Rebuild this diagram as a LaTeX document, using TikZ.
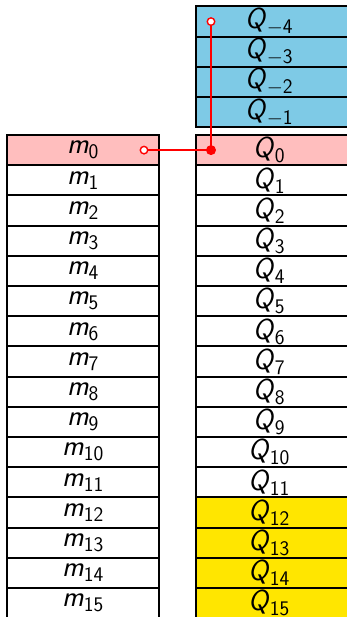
\documentclass[tikz,border=0pt]{standalone}
\usepackage{tikz}
\definecolor{qblue}{RGB}{126,202,230}
\definecolor{mpink}{RGB}{255,190,190}
\definecolor{qyellow}{RGB}{255,230,0}
\newcommand\lab[2]{\textsf{\textit{#1}}$_{\mathsf{#2}}$}
\tikzset{
  cell/.style={draw=black, line width=2pt, rectangle, minimum height=30.2pt, inner sep=0pt, font=\fontsize{29}{32}\selectfont},
  mcell/.style={cell, minimum width=152pt},
  qcell/.style={cell, minimum width=156pt},
  wire/.style={red, line width=1.6pt},
  opendot/.style={circle, draw=red, fill=white, line width=1.4pt, minimum size=7.5pt, inner sep=0pt},
  solidot/.style={circle, fill=red, minimum size=10pt, inner sep=0pt}
}
\begin{document}
\begin{tikzpicture}[x=1pt,y=-1pt]
\useasboundingbox (0,0) rectangle (347,617);
\clip (0,0) rectangle (347,617);
% Q negative rows
\foreach \j/\n in {-4/qm4,-3/qm3,-2/qm2,-1/qm1}{
  \node[qcell, fill=qblue] (\n) at (274,{21.6+30.2*(\j+4)}) {\hspace*{-10pt}\lab{Q}{\j}};
}
% m and Q rows
\foreach \i in {0,...,15}{
  \ifnum\i=0
    \node[mcell, fill=mpink] (m\i) at (83,{150.1+30.2*\i}) {\lab{m}{\i}};
    \node[qcell, fill=mpink] (q\i) at (274,{150.1+30.2*\i}) {\hspace*{-10pt}\lab{Q}{\i}};
  \else\ifnum\i>11
    \node[mcell, fill=white] (m\i) at (83,{150.1+30.2*\i}) {\lab{m}{\i}};
    \node[qcell, fill=qyellow] (q\i) at (274,{150.1+30.2*\i}) {\hspace*{-10pt}\lab{Q}{\i}};
  \else
    \node[mcell, fill=white] (m\i) at (83,{150.1+30.2*\i}) {\lab{m}{\i}};
    \node[qcell, fill=white] (q\i) at (274,{150.1+30.2*\i}) {\hspace*{-10pt}\lab{Q}{\i}};
  \fi\fi
}
% connector
\coordinate (src) at ([xshift=-16pt]m0.east);
\coordinate (hub) at ([xshift=16pt]q0.west);
\coordinate (top) at ([xshift=16pt]qm4.west);
\draw[wire] (src) -- (hub) -- (top);
\node[opendot] (srcdot) at (src) {};
\node[opendot] (topdot) at (top) {};
\node[solidot] (hubdot) at (hub) {};
\end{tikzpicture}
\end{document}
